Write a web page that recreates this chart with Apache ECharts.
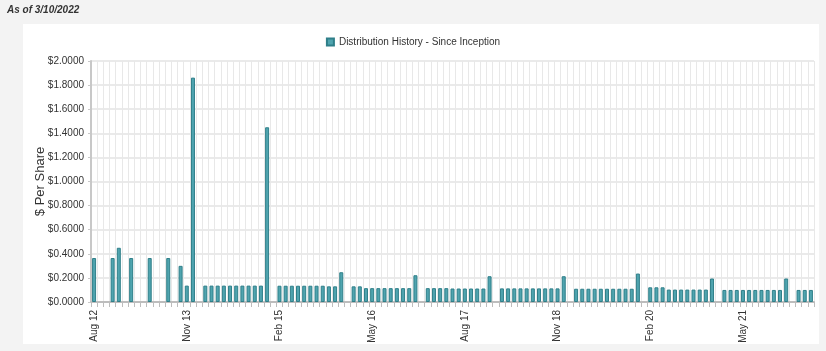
<!DOCTYPE html>
<html>
<head>
<meta charset="utf-8">
<script src="https://cdn.jsdelivr.net/npm/echarts@6/dist/echarts.min.js"></script>
<style>
html, body { margin: 0; padding: 0; background: #f3f3f3; }
#chart { width: 826px; height: 351px; }
</style>
</head>
<body>
<div id="chart"></div>
<script>
// months shown on the axis (Aug 12 .. Apr 22)
var monthNames = ['Jan', 'Feb', 'Mar', 'Apr', 'May', 'Jun', 'Jul', 'Aug', 'Sep', 'Oct', 'Nov', 'Dec'];
var firstYear = 12, firstMonth = 7, monthCount = 117;

// distribution per share, one row per year, null = no payment that month
var dist2012 = [0.365, null, null, 0.365, 0.45];
var dist2013 = [null, 0.365, null, null, 0.365, null, null, 0.365, null, 0.30, 0.136, 1.862];
var dist2014 = [null, 0.136, 0.136, 0.136, 0.136, 0.136, 0.136, 0.136, 0.136, 0.136, 0.136, 1.45];
var dist2015 = [null, 0.135, 0.135, 0.135, 0.135, 0.135, 0.135, 0.135, 0.135, 0.13, 0.13, 0.247];
var dist2016 = [null, 0.13, 0.13, 0.115, 0.115, 0.115, 0.115, 0.115, 0.115, 0.115, 0.115, 0.222];
var dist2017 = [null, 0.115, 0.115, 0.115, 0.115, 0.112, 0.112, 0.112, 0.112, 0.112, 0.112, 0.214];
var dist2018 = [null, 0.113, 0.113, 0.113, 0.113, 0.113, 0.113, 0.113, 0.113, 0.113, 0.113, 0.214];
var dist2019 = [null, 0.11, 0.11, 0.11, 0.11, 0.11, 0.11, 0.11, 0.11, 0.11, 0.11, 0.236];
var dist2020 = [null, 0.122, 0.122, 0.122, 0.103, 0.103, 0.103, 0.103, 0.103, 0.103, 0.103, 0.195];
var dist2021 = [null, 0.10, 0.10, 0.10, 0.10, 0.10, 0.10, 0.10, 0.10, 0.10, 0.10, 0.195];
var dist2022 = [null, 0.10, 0.10, 0.10];

var yTicks = { min: 0, max: 2, interval: 0.2 };

var months = [];
for (var i = 0; i < monthCount; i++) {
	var m = (firstMonth + i) % 12;
	var y = firstYear + Math.floor((firstMonth + i) / 12);
	months.push(monthNames[m] + ' ' + y);
}
var distData = [].concat(dist2012, dist2013, dist2014, dist2015, dist2016, dist2017,
	dist2018, dist2019, dist2020, dist2021, dist2022);

var myChart = echarts.init(document.getElementById('chart'));
var option = {
	backgroundColor: '#f3f3f3',
	animation: false,
	textStyle: { fontFamily: 'Liberation Sans, Arial, sans-serif' },
	title: {
		text: 'As of 3/10/2022',
		left: 2,
		top: 0,
		textStyle: { fontSize: 10, fontStyle: 'italic', fontWeight: 'bold', color: '#333' }
	},
	graphic: [{
		type: 'rect',
		z: -10,
		shape: { x: 23, y: 24, width: 796, height: 320 },
		style: { fill: '#fff' }
	}],
	legend: {
		top: 32,
		left: 'center',
		itemWidth: 7,
		itemHeight: 7,
		itemGap: 5,
		icon: 'rect',
		textStyle: { fontSize: 10, color: '#333' },
		data: ['Distribution History - Since Inception']
	},
	grid: { left: 91, right: 12, top: 61, bottom: 49 },
	xAxis: {
		type: 'category',
		data: months,
		axisLine: { lineStyle: { color: '#bdbdbd', width: 2 } },
		axisTick: { show: true, interval: 0, length: 5, lineStyle: { color: '#bdbdbd' } },
		axisLabel: { interval: 14, rotate: 90, fontSize: 10, color: '#333', margin: 8 },
		splitLine: { show: true, interval: 0, lineStyle: { color: '#e8e8e8' } }
	},
	yAxis: {
		type: 'value',
		min: yTicks.min,
		max: yTicks.max,
		interval: yTicks.interval,
		name: '$ Per Share',
		nameLocation: 'middle',
		nameGap: 44,
		nameMoveOverlap: false,
		nameTextStyle: { fontSize: 13, color: '#333' },
		axisLine: { show: true, lineStyle: { color: '#c8c8c8', width: 2 } },
		axisTick: { show: true, length: 3, lineStyle: { color: '#c8c8c8' } },
		axisLabel: {
			fontSize: 10, color: '#333', margin: 7,
			formatter: function (v) { return '$' + v.toFixed(4); }
		},
		splitLine: { lineStyle: { color: '#e3e3e3', width: 1.5 } }
	},
	series: [{
		name: 'Distribution History - Since Inception',
		type: 'bar',
		barWidth: 4,
		itemStyle: { color: '#4fa4af', borderColor: '#2f7f89', borderWidth: 1 },
		data: distData
	}]
};
myChart.setOption(option);
</script>
</body>
</html>
